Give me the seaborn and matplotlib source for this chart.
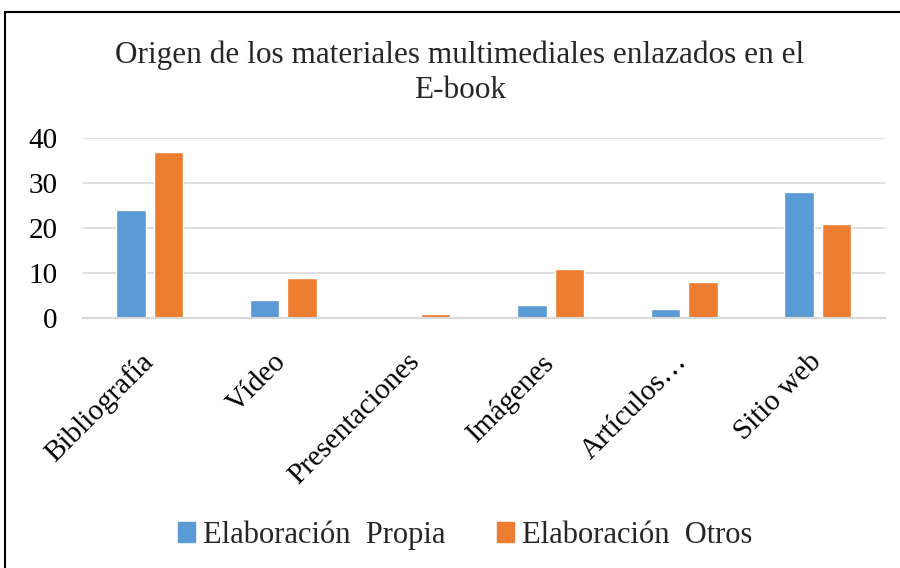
import matplotlib
matplotlib.use("Agg")
import matplotlib.pyplot as plt
import matplotlib.patches as mpatches
import matplotlib.transforms as mtransforms
import seaborn as sns
import pandas as pd

# Data
categorias = ["Bibliografía", "Vídeo", "Presentaciones", "Imágenes", "Artículos…", "Sitio web"]
propia = [24, 4, 0, 3, 2, 28]
otros = [37, 9, 1, 11, 8, 21]
series = ["Elaboración  Propia", "Elaboración  Otros"]
colores = ["#5B9BD5", "#ED7D31"]

df = pd.DataFrame({
    "categoria": categorias * 2,
    "valor": propia + otros,
    "serie": [series[0]] * len(categorias) + [series[1]] * len(categorias),
})

sns.set_theme(style="white")
plt.rcParams["font.family"] = ["Liberation Serif", "DejaVu Serif"]

fig = plt.figure(figsize=(9, 5.68), dpi=100)
ax = fig.add_axes([0.092, 0.44, 0.891, 0.317])

sns.barplot(
    data=df, x="categoria", y="valor", hue="serie",
    palette=colores, width=0.56, gap=0.21, ax=ax, legend=False,
    saturation=1,
)

ax.set_ylim(0, 40)
ax.set_xlim(-0.5, len(categorias) - 0.5)
ax.set_yticks([0, 10, 20, 30, 40])
ax.yaxis.grid(True, color="#D9D9D9", linewidth=1.2)
ax.set_axisbelow(True)
for s in ["top", "right", "left"]:
    ax.spines[s].set_visible(False)
ax.spines["bottom"].set_color("#D9D9D9")
ax.spines["bottom"].set_linewidth(1.5)
ax.tick_params(axis="both", length=0, labelsize=21, colors="black")
ax.tick_params(axis="y", pad=18)
ax.tick_params(axis="x", pad=22)
ax.set_xlabel("")
ax.set_ylabel("")
shift = mtransforms.ScaledTranslation(-10 / 100, 0, fig.dpi_scale_trans)
for lbl in ax.get_xticklabels():
    lbl.set_rotation(45)
    lbl.set_ha("right")
    lbl.set_rotation_mode("anchor")
    lbl.set_transform(lbl.get_transform() + shift)

fig.text(0.511, 0.872, "Origen de los materiales multimediales enlazados en el\nE-book",
         ha="center", va="center", fontsize=22.5, linespacing=1.3)

handles = [mpatches.Patch(color=c, label=s) for c, s in zip(colores, series)]
fig.legend(handles=handles, loc="center", bbox_to_anchor=(0.517, 0.058), ncol=2,
           frameon=False, fontsize=22, handlelength=0.55, handleheight=0.6,
           handletextpad=0.25, columnspacing=1.7)

# outer chart border
fig.patches.append(mpatches.Rectangle((5 / 900, -0.1), 1.2, 1.1 - 12 / 568,
                                      transform=fig.transFigure, fill=False,
                                      edgecolor="black", linewidth=1.5))

fig.savefig("out.png", dpi=100)
